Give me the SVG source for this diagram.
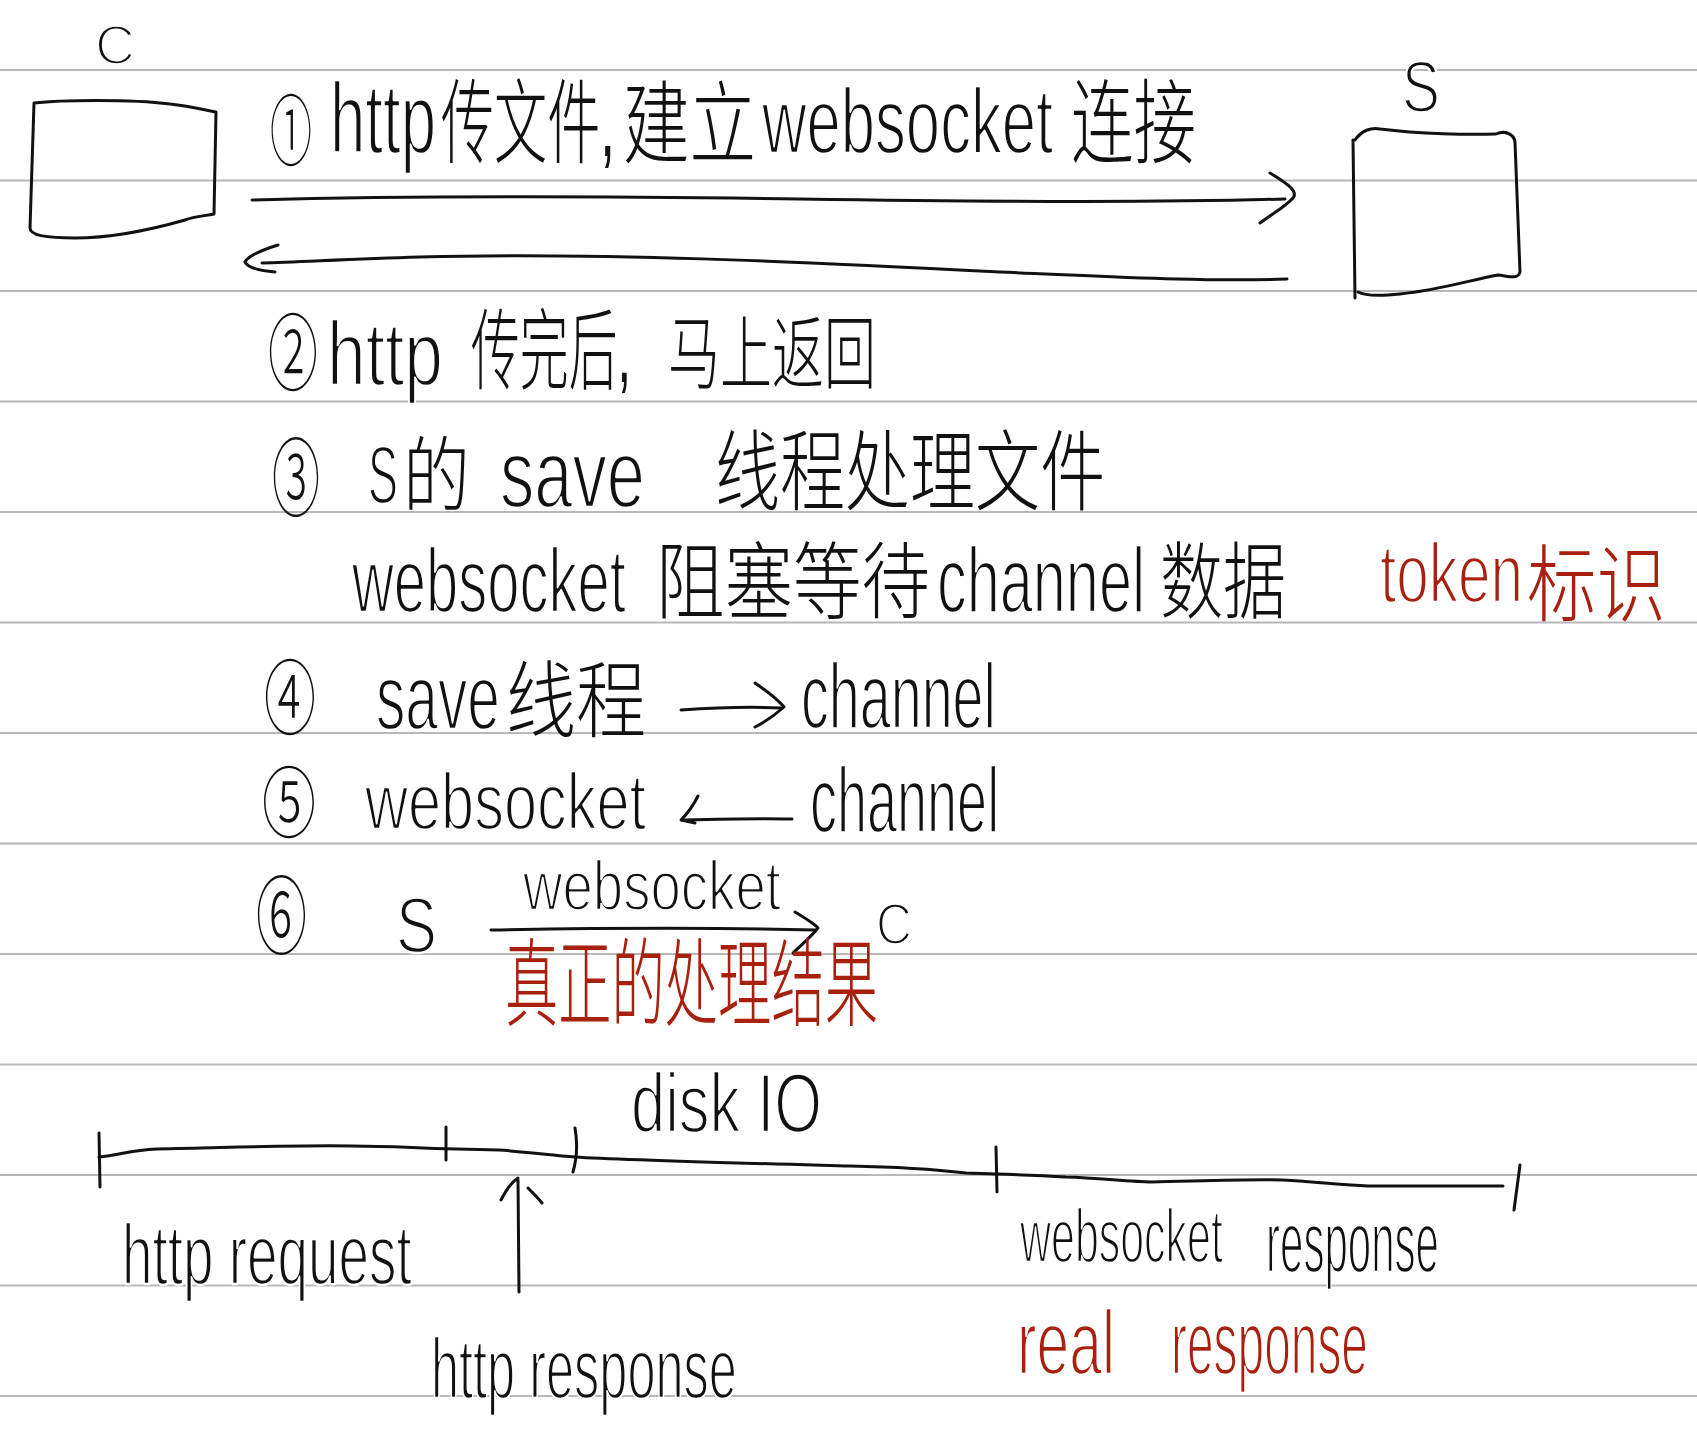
<svg xmlns="http://www.w3.org/2000/svg" width="1697" height="1435" viewBox="0 0 1697 1435">
<style>
.rule{stroke:#b8b8b8;stroke-width:2;fill:none}
.ink{fill:none;stroke:#111;stroke-width:3;stroke-linecap:round;stroke-linejoin:round}
.t{font-family:"Liberation Sans","Noto Sans CJK SC",sans-serif;font-weight:300;fill:#111}
.lt{stroke:#fff;stroke-width:2.4;stroke-linejoin:round}
.r{fill:#a8210f}
</style>
<rect width="1697" height="1435" fill="#fff"/>
<g id="ruled-lines">
<line class="rule" x1="0" y1="70" x2="1697" y2="70"/>
<line class="rule" x1="0" y1="180.5" x2="1697" y2="180.5"/>
<line class="rule" x1="0" y1="291" x2="1697" y2="291"/>
<line class="rule" x1="0" y1="401.5" x2="1697" y2="401.5"/>
<line class="rule" x1="0" y1="512" x2="1697" y2="512"/>
<line class="rule" x1="0" y1="622.5" x2="1697" y2="622.5"/>
<line class="rule" x1="0" y1="733" x2="1697" y2="733"/>
<line class="rule" x1="0" y1="843.5" x2="1697" y2="843.5"/>
<line class="rule" x1="0" y1="954" x2="1697" y2="954"/>
<line class="rule" x1="0" y1="1064.5" x2="1697" y2="1064.5"/>
<line class="rule" x1="0" y1="1175" x2="1697" y2="1175"/>
<line class="rule" x1="0" y1="1285.5" x2="1697" y2="1285.5"/>
<line class="rule" x1="0" y1="1396" x2="1697" y2="1396"/>
</g>
<g id="node-c">
<path class="ink" d="M34,103 C60,100 130,99 170,104 C190,106 205,110 216,112 L214,214 C205,216 195,216 185,220 C150,230 110,238 75,238 C45,238 30,235 30,228 L34,103"/>
<text class="t lt" transform="translate(95 64) scale(0.99 1)" font-size="56" textLength="40.4" lengthAdjust="spacingAndGlyphs">C</text>
</g>
<g id="node-s">
<path class="ink" d="M1353,140 L1355,298"/>
<path class="ink" d="M1355,140 C1362,130 1372,127 1380,129 C1420,134 1470,135 1496,134 C1505,130 1514,134 1515,142 L1520,272 C1518,280 1508,276 1498,275 C1470,280 1440,290 1400,294 C1380,296 1365,296 1358,292"/>
<text class="t lt" transform="translate(1402 112) scale(0.79 1)" font-size="72" textLength="48" lengthAdjust="spacingAndGlyphs">S</text>
</g>
<g id="connectors">
<path class="ink" d="M252,200 C400,196 600,196 800,199 S1150,203 1285,199"/>
<path class="ink" d="M1270,173 C1290,185 1298,192 1293,198 C1285,207 1272,214 1260,223"/>
<path class="ink" d="M1287,279 C1200,282 1100,276 1000,272 C800,262 600,252 420,257 C350,259 300,262 262,263"/>
<path class="ink" d="M278,245 C262,250 248,256 245,262 C248,268 262,271 275,272"/>
<path class="ink" d="M681,710 C710,708 740,706 781,708"/>
<path class="ink" d="M755,683 C768,692 778,700 784,707 C775,715 765,722 755,727"/>
<path class="ink" d="M792,819 C760,818 720,819 684,820"/>
<path class="ink" d="M698,796 C692,808 686,815 681,820 L695,823"/>
<path class="ink" d="M491,930 C600,928 700,927 815,930"/>
<path class="ink" d="M795,912 C805,918 815,924 818,928 C810,938 800,946 793,953"/>
</g>
<g id="notes">
<text class="t" transform="translate(270 160) scale(0.538 1)" font-size="78" textLength="78" lengthAdjust="spacingAndGlyphs">①</text>
<text class="t lt" transform="translate(330 153) scale(0.636 1)" font-size="100" textLength="166.8" lengthAdjust="spacingAndGlyphs">http</text>
<text class="t" transform="translate(441 156) scale(0.577 1)" font-size="92" textLength="301.6" lengthAdjust="spacingAndGlyphs">传文件,</text>
<text class="t" transform="translate(623 156) scale(0.739 1)" font-size="90" textLength="180" lengthAdjust="spacingAndGlyphs">建立</text>
<text class="t lt" transform="translate(762 153) scale(0.670 1)" font-size="92" textLength="434.6" lengthAdjust="spacingAndGlyphs">websocket</text>
<text class="t" transform="translate(1071 156) scale(0.679 1)" font-size="92" textLength="184" lengthAdjust="spacingAndGlyphs">连接</text>

<text class="t" transform="translate(268 384) scale(0.595 1)" font-size="84" textLength="84" lengthAdjust="spacingAndGlyphs">②</text>
<text class="t lt" transform="translate(327 385) scale(0.773 1)" font-size="90" textLength="150.1" lengthAdjust="spacingAndGlyphs">http</text>
<text class="t" transform="translate(471 382) scale(0.555 1)" font-size="88" textLength="288.5" lengthAdjust="spacingAndGlyphs">传完后,</text>
<text class="t" transform="translate(668 382) scale(0.650 1)" font-size="80" textLength="320" lengthAdjust="spacingAndGlyphs">马上返回</text>

<text class="t" transform="translate(272 510) scale(0.558 1)" font-size="86" textLength="86" lengthAdjust="spacingAndGlyphs">③</text>
<text class="t lt" transform="translate(368 503) scale(0.548 1)" font-size="82" textLength="54.7" lengthAdjust="spacingAndGlyphs">S</text>
<text class="t" transform="translate(403 505) scale(0.817 1)" font-size="82" textLength="82" lengthAdjust="spacingAndGlyphs">的</text>
<text class="t lt" transform="translate(500 507) scale(0.715 1)" font-size="96" textLength="202.8" lengthAdjust="spacingAndGlyphs">save</text>
<text class="t" transform="translate(715 503) scale(0.739 1)" font-size="88" textLength="528" lengthAdjust="spacingAndGlyphs">线程处理文件</text>

<text class="t lt" transform="translate(352 612) scale(0.644 1)" font-size="90" textLength="425.2" lengthAdjust="spacingAndGlyphs">websocket</text>
<text class="t" transform="translate(656 612) scale(0.815 1)" font-size="84" textLength="336" lengthAdjust="spacingAndGlyphs">阻塞等待</text>
<text class="t lt" transform="translate(937 612) scale(0.646 1)" font-size="92" textLength="322.2" lengthAdjust="spacingAndGlyphs">channel</text>
<text class="t" transform="translate(1160 612) scale(0.75 1)" font-size="84" textLength="168" lengthAdjust="spacingAndGlyphs">数据</text>
<text class="t r lt" transform="translate(1380 602) scale(0.696 1)" font-size="84" textLength="205.5" lengthAdjust="spacingAndGlyphs">token</text>
<text class="t r" transform="translate(1527 615) scale(0.827 1)" font-size="84" textLength="168" lengthAdjust="spacingAndGlyphs">标识</text>

<text class="t" transform="translate(264 728) scale(0.634 1)" font-size="82" textLength="82" lengthAdjust="spacingAndGlyphs">④</text>
<text class="t lt" transform="translate(376 729) scale(0.638 1)" font-size="92" textLength="194.3" lengthAdjust="spacingAndGlyphs">save</text>
<text class="t" transform="translate(506 731) scale(0.833 1)" font-size="84" textLength="168" lengthAdjust="spacingAndGlyphs">线程</text>
<text class="t lt" transform="translate(801 728) scale(0.605 1)" font-size="92" textLength="322.2" lengthAdjust="spacingAndGlyphs">channel</text>

<text class="t" transform="translate(262 832) scale(0.692 1)" font-size="78" textLength="78" lengthAdjust="spacingAndGlyphs">⑤</text>
<text class="t lt" transform="translate(365 829) scale(0.744 1)" font-size="80" textLength="377.9" lengthAdjust="spacingAndGlyphs">websocket</text>
<text class="t lt" transform="translate(810 832) scale(0.587 1)" font-size="92" textLength="322.2" lengthAdjust="spacingAndGlyphs">channel</text>

<text class="t" transform="translate(256 948) scale(0.593 1)" font-size="86" textLength="86" lengthAdjust="spacingAndGlyphs">⑥</text>
<text class="t lt" transform="translate(396 952) scale(0.788 1)" font-size="78" textLength="52" lengthAdjust="spacingAndGlyphs">S</text>
<text class="t lt" transform="translate(523 910) scale(0.780 1)" font-size="70" textLength="330.7" lengthAdjust="spacingAndGlyphs">websocket</text>
<text class="t lt" transform="translate(876 944) scale(0.86 1)" font-size="58" textLength="41.9" lengthAdjust="spacingAndGlyphs">C</text>
<text class="t r" transform="translate(505 1018) scale(0.555 1)" font-size="96" textLength="672" lengthAdjust="spacingAndGlyphs">真正的处理结果</text>
</g>
<g id="timeline">
<path class="ink" d="M99,1157 C120,1155 130,1150 157,1149 C250,1147 300,1145 352,1146 C400,1146 420,1149 499,1150 C530,1152 555,1156 575,1157 C620,1160 700,1162 850,1166 C900,1167 940,1170 966,1173 L996,1174 C1030,1175 1050,1176 1066,1177 C1100,1178 1130,1182 1152,1182 C1200,1181 1250,1179 1282,1180 C1320,1182 1340,1185 1368,1186 L1503,1186"/>
<path class="ink" d="M99,1133 L100,1187 M446,1127 L446,1160 M575,1128 C578,1145 577,1158 573,1172 M996,1147 L997,1192 M1520,1165 L1514,1210"/>
<path class="ink" d="M519,1292 L518,1180 M501,1200 C506,1190 512,1182 518,1178 M528,1188 C533,1193 538,1198 542,1203"/>
<text class="t lt" transform="translate(631 1132) scale(0.731 1)" font-size="84" textLength="261.4" lengthAdjust="spacingAndGlyphs">disk IO</text>
<text class="t lt" transform="translate(122 1284) scale(0.638 1)" font-size="86" textLength="454.2" lengthAdjust="spacingAndGlyphs">http request</text>
<text class="t lt" transform="translate(431 1398) scale(0.587 1)" font-size="86" textLength="521.1" lengthAdjust="spacingAndGlyphs">http response</text>
<text class="t lt" transform="translate(1020 1262) scale(0.565 1)" font-size="76" textLength="359" lengthAdjust="spacingAndGlyphs">websocket</text>
<text class="t lt" transform="translate(1266 1272) scale(0.478 1)" font-size="88" textLength="361.9" lengthAdjust="spacingAndGlyphs">response</text>
<text class="t r lt" transform="translate(1017 1374) scale(0.653 1)" font-size="90" textLength="150" lengthAdjust="spacingAndGlyphs">real</text>
<text class="t r lt" transform="translate(1171 1374) scale(0.532 1)" font-size="90" textLength="370.2" lengthAdjust="spacingAndGlyphs">response</text>
</g>
</svg>
